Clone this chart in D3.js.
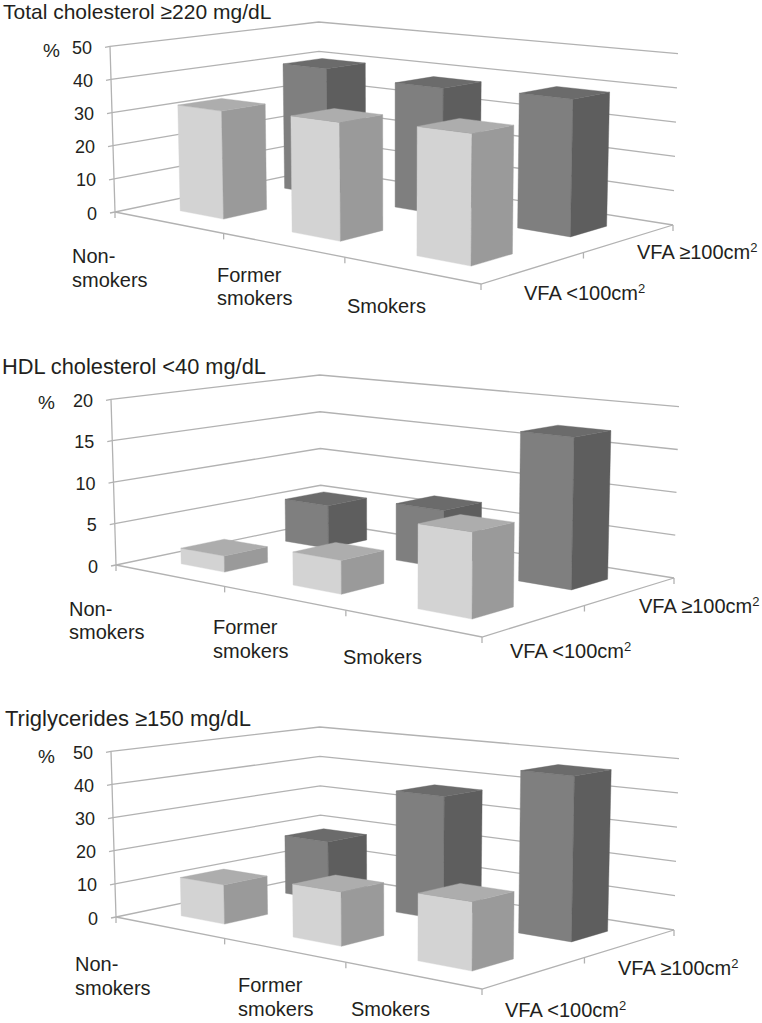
<!DOCTYPE html>
<html>
<head>
<meta charset="utf-8">
<script src="https://cdn.jsdelivr.net/npm/d3@7"></script>
<style>
html,body{margin:0;padding:0;background:#fff}
svg{display:block}
text{font-family:"Liberation Sans",Arial,sans-serif;font-size:20px;fill:#231f20}
</style>
</head>
<body>
<script>
const categories = ["Non-smokers", "Former smokers", "Smokers"];
const depthGroups = ["VFA <100cm", "VFA ≥100cm"];
const depthUnitPower = "2";

const titles = ["Total cholesterol ≥220 mg/dL", "HDL cholesterol <40 mg/dL", "Triglycerides ≥150 mg/dL"];
const axisMax = [50, 20, 50];
const axisStep = [10, 5, 10];

const totalCholLow  = [32, 33.3, 35];
const totalCholHigh = [40, 38, 39];
const hdlLow  = [1.9, 3.8, 9.2];
const hdlHigh = [5.4, 6.9, 17.3];
const trigLow  = [11.6, 15.2, 18.3];
const trigHigh = [18.5, 37, 47];
const panelLow  = [totalCholLow, hdlLow, trigLow];
const panelHigh = [totalCholHigh, hdlHigh, trigHigh];

// layout
const W = 762, H = 1023;
const panelOffset = [[0, 0], [1, 353], [1, 705]];
const floorQuad = {l: [115, 212], f: [481, 284], r: [673, 225], b: [320, 169]};
const wallHeight = d3.scaleLinear().domain([169, 284]).range([147, 197]); // full axis height by floor y
const topSpread = d3.scaleLinear().domain([115, 673]).range([-5, 5]);     // verticals open slightly upward

const titlePos = [[3, 19], [2, 374], [5, 726]];
const titleSize = [21, 21.8, 22];
const percentPos = [[43, 57], [38, 409], [38, 763]];
const catLabels = [
  [[72, 263, "Non-"], [72, 287, "smokers"], [217, 282, "Former"], [217, 305, "smokers"], [347, 313, "Smokers"]],
  [[69, 616, "Non-"], [69, 639, "smokers"], [213, 634, "Former"], [213, 658, "smokers"], [343, 664, "Smokers"]],
  [[75, 971, "Non-"], [75, 995, "smokers"], [238, 992, "Former"], [238, 1016, "smokers"], [351, 1016, "Smokers"]]
];
const depthLabelPos = [
  [[524, 300], [637, 259]],
  [[510, 658], [639, 613]],
  [[505, 1017], [618, 975]]
];

const lowColors  = {front: "#d3d3d3", side: "#9a9a9a", top: "#adadad"};
const highColors = {front: "#7f7f7f", side: "#5e5e5e", top: "#6b6b6b"};
const gridColor = "#b2b2b2";

// projective map of the unit square: (0,0)=l, (1,0)=f, (1,1)=r, (0,1)=b
function homography(q) {
  const [x0, y0] = q.l, [x1, y1] = q.f, [x2, y2] = q.r, [x3, y3] = q.b;
  const dx1 = x1 - x2, dx2 = x3 - x2, sx = x0 - x1 + x2 - x3;
  const dy1 = y1 - y2, dy2 = y3 - y2, sy = y0 - y1 + y2 - y3;
  const den = dx1 * dy2 - dx2 * dy1;
  const g = (sx * dy2 - dx2 * sy) / den;
  const h = (dx1 * sy - sx * dy1) / den;
  const a = x1 - x0 + g * x1, b = x3 - x0 + h * x3, c = x0;
  const d = y1 - y0 + g * y1, e = y3 - y0 + h * y3, f = y0;
  return (u, v) => {
    const w = g * u + h * v + 1;
    return [(a * u + b * v + c) / w, (d * u + e * v + f) / w];
  };
}
const floorAt = homography(floorQuad);

const catScale = d3.scaleBand().domain(categories).range([0, 1]).paddingInner(0.6).paddingOuter(0.3);
const depthScale = d3.scaleBand().domain(depthGroups).range([0, 1]).paddingInner(0.6).paddingOuter(0.3);

const svg = d3.select("body").append("svg").attr("width", W).attr("height", H);
svg.append("rect").attr("width", W).attr("height", H).attr("fill", "#fff");

panelLow.forEach((low, p) => {
  const [ox, oy] = panelOffset[p];
  const g = svg.append("g");
  const yScale = d3.scaleLinear().domain([0, axisMax[p]]).range([0, 1]);
  const project = (u, v, val) => {
    const a = floorAt(u, v), t = yScale(val);
    return [a[0] + topSpread(a[0]) * t + ox, a[1] - wallHeight(a[1]) * t + oy];
  };
  const lineOf = pts => d3.line()(pts);
  const tickValues = d3.range(0, axisMax[p] + axisStep[p] / 2, axisStep[p]);
  const grid = g.append("g").attr("fill", "none").attr("stroke", gridColor).attr("stroke-width", 1.3);

  // walls
  tickValues.forEach(t => {
    grid.append("path").attr("d", lineOf([project(0, 0, t), project(0, 1, t), project(1, 1, t)]));
    const s = project(0, 0, t);
    grid.append("path").attr("d", lineOf([[s[0] - 5, s[1] + 1], s]));
    g.append("text").attr("x", s[0] - 18).attr("y", s[1] + 7.5).attr("text-anchor", "end")
      .style("font-size", "18px").text(t);
  });
  grid.append("path").attr("d", lineOf([project(0, 0, 0), project(0, 0, axisMax[p])]));
  // floor edges and ticks
  grid.append("path").attr("d", lineOf([project(0, 0, 0), project(1, 0, 0), project(1, 1, 0)]));
  d3.range(0, categories.length + 1).forEach(i => {
    const s = project(i / categories.length, 0, 0);
    grid.append("path").attr("d", lineOf([s, [s[0], s[1] + 6]]));
  });
  d3.range(1, depthGroups.length + 1).forEach(i => {
    const s = project(1, i / depthGroups.length, 0);
    grid.append("path").attr("d", lineOf([s, [s[0], s[1] + 6]]));
  });

  // bars, back row first
  const bar = (cat, group, val, col) => {
    const u1 = catScale(cat), u2 = u1 + catScale.bandwidth();
    const v1 = depthScale(group), v2 = v1 + depthScale.bandwidth();
    const poly = (pts, fill) => g.append("polygon")
      .attr("points", pts.map(d => d.map(n => n.toFixed(1)).join(",")).join(" "))
      .attr("fill", fill).attr("stroke", fill).attr("stroke-width", 0.4);
    poly([project(u1, v1, 0), project(u2, v1, 0), project(u2, v1, val), project(u1, v1, val)], col.front);
    poly([project(u2, v1, 0), project(u2, v2, 0), project(u2, v2, val), project(u2, v1, val)], col.side);
    poly([project(u1, v1, val), project(u2, v1, val), project(u2, v2, val), project(u1, v2, val)], col.top);
  };
  categories.forEach((c, i) => bar(c, depthGroups[1], panelHigh[p][i], highColors));
  categories.forEach((c, i) => bar(c, depthGroups[0], low[i], lowColors));

  // texts
  g.append("text").attr("x", titlePos[p][0]).attr("y", titlePos[p][1])
    .style("font-size", titleSize[p] + "px").text(titles[p]);
  g.append("text").attr("x", percentPos[p][0]).attr("y", percentPos[p][1]).style("font-size", "19px").text("%");
  catLabels[p].forEach(l => g.append("text").attr("x", l[0]).attr("y", l[1]).text(l[2]));
  depthGroups.forEach((t, i) => {
    const el = g.append("text").attr("x", depthLabelPos[p][i][0]).attr("y", depthLabelPos[p][i][1]);
    el.append("tspan").text(t);
    el.append("tspan").attr("dy", -7).style("font-size", "13px").text(depthUnitPower);
  });
});
</script>
</body>
</html>
